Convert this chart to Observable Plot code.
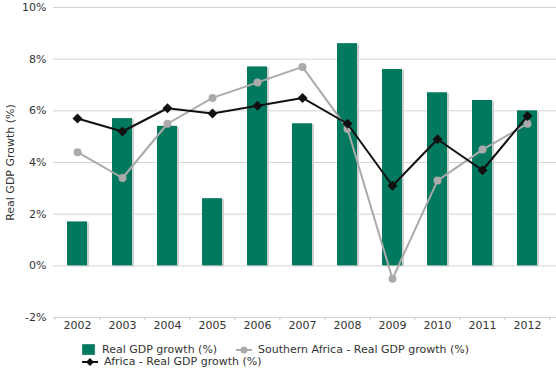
<!DOCTYPE html>
<html>
<head>
<meta charset="utf-8">
<script src="https://cdn.jsdelivr.net/npm/d3@7"></script>
<script src="https://cdn.jsdelivr.net/npm/@observablehq/plot@0.6"></script>
<style>
  body { margin: 0; background: #fff; font-family: "DejaVu Sans", Verdana, sans-serif; }
  #legend { position: relative; height: 37px; font-size: 11px; color: #333; }
  .item { position: absolute; display: flex; align-items: center; white-space: nowrap; height: 12px; line-height: 12px; }
  .item svg { margin-right: 6px; }
</style>
</head>
<body>
<div id="chart"></div>
<div id="legend">
  <div class="item" style="left:82px; top:9px;"><svg width="14" height="12"><rect x="0" y="0" width="13" height="11" fill="#00795f" stroke="#ccc" stroke-width="0.5"/></svg>Real GDP growth (%)</div>
  <div class="item" style="left:236px; top:9px;"><svg width="16" height="12"><line x1="0" x2="16" y1="6" y2="6" stroke="#aaa" stroke-width="2"/><circle cx="8" cy="6" r="3.5" fill="#aaa"/></svg>Southern Africa - Real GDP growth (%)</div>
  <div class="item" style="left:82px; top:21px;"><svg width="16" height="12"><line x1="0" x2="16" y1="6" y2="6" stroke="#111" stroke-width="2"/><path d="M8,2 L12,6 L8,10 L4,6 Z" fill="#111"/></svg>Africa - Real GDP growth (%)</div>
</div>
<script>
const years = ["2002","2003","2004","2005","2006","2007","2008","2009","2010","2011","2012"];
const realGdp = [1.7, 5.7, 5.4, 2.6, 7.7, 5.5, 8.6, 7.6, 6.7, 6.4, 6.0];
const southernAfrica = [4.4, 3.4, 5.5, 6.5, 7.1, 7.7, 5.3, -0.5, 3.3, 4.5, 5.5];
const africa = [5.7, 5.2, 6.1, 5.9, 6.2, 6.5, 5.5, 3.1, 4.9, 3.7, 5.8];
const yTicks = [-2, 0, 2, 4, 6, 8, 10];

const rows = years.map((y, i) => ({year: y, gdp: realGdp[i], south: southernAfrica[i], africa: africa[i]}));

const chart = Plot.plot({
  width: 556,
  height: 335,
  marginLeft: 53,
  marginRight: 5,
  marginTop: 7,
  marginBottom: 18,
  style: {fontFamily: "DejaVu Sans, Verdana, sans-serif", fontSize: "11px", color: "#333", background: "#fff"},
  x: {domain: years, paddingInner: 0.56, paddingOuter: 0.28, label: null, tickSize: 0, tickPadding: 4},
  y: {domain: [-2, 10], ticks: yTicks, tickFormat: d => d + "%", label: null, tickSize: 0, tickPadding: 7},
  marks: [
    Plot.gridY(yTicks, {stroke: "#d4d4d4", strokeOpacity: 1, insetRight: -5}),
    Plot.ruleX(years, {x: d => d, y1: -2, y2: -2, insetBottom: -3, dx: -22.6, stroke: "#ccc"}),
    Plot.ruleX([years[years.length - 1]], {x: d => d, y1: -2, y2: -2, insetBottom: -3, dx: 22.6, stroke: "#ccc"}),
    Plot.barY(rows, {x: "year", y: "gdp", fill: "#cfcfcf", dx: 2, dy: 1}),
    Plot.barY(rows, {x: "year", y: "gdp", fill: "#00795f"}),
    Plot.line(rows, {x: "year", y: "south", stroke: "#aaa", strokeWidth: 2}),
    Plot.dot(rows, {x: "year", y: "south", fill: "#aaa", r: 4}),
    Plot.line(rows, {x: "year", y: "africa", stroke: "#111", strokeWidth: 2}),
    Plot.dot(rows, {x: "year", y: "africa", fill: "#111", symbol: "diamond2", r: 4.5}),
    Plot.text(["Real GDP Growth (%)"], {frameAnchor: "left", textAnchor: "middle", dx: -43, rotate: -90, fontSize: 11, fill: "#333"})
  ]
});
document.getElementById("chart").appendChild(chart);
</script>
</body>
</html>
